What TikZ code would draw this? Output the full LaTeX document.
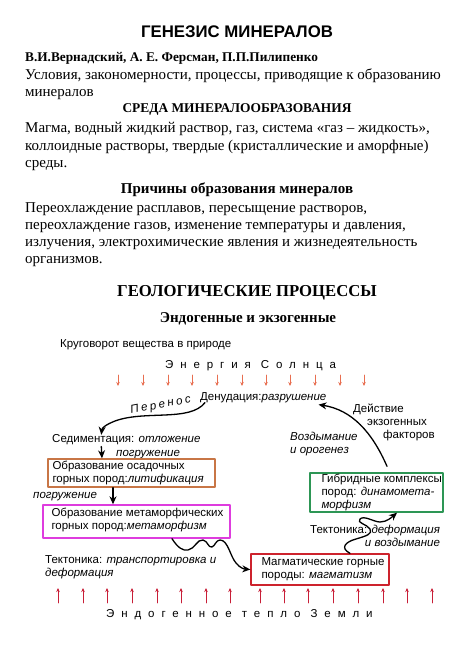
\documentclass[tikz,border=0pt]{standalone}
\usepackage{fontspec}
\setmainfont{Liberation Serif}
\setsansfont{Liberation Sans}
\newfontfamily\spacedsans[LetterSpace=60]{Liberation Sans}
\newfontfamily\widesans[LetterSpace=22]{Liberation Sans}
\usetikzlibrary{arrows.meta,positioning}

\definecolor{sedcol}{RGB}{200,118,70}
\definecolor{metcol}{RGB}{222,60,222}
\definecolor{hybcol}{RGB}{45,150,85}
\definecolor{magcol}{RGB}{205,35,45}
\definecolor{suncol}{RGB}{232,110,80}
\definecolor{heatcol}{RGB}{200,30,55}

\tikzset{
  body/.style={font=\fontsize{15}{17}\selectfont, inner sep=0pt, anchor=base west},
  head/.style={font=\bfseries\fontsize{15}{17}\selectfont, inner sep=0pt, anchor=base},
  txt/.style={font=\sffamily\fontsize{11.5}{13}\selectfont, inner sep=0pt, align=left},
  flow/.style={-{Stealth[length=8pt,width=7pt]}, line width=1.3pt},
  sunarr/.style={suncol, line width=0.8pt, -{Stealth[length=4pt,width=3.5pt]}},
  heatarr/.style={heatcol, line width=0.8pt, -{Stealth[length=4pt,width=3.5pt]}},
}

\begin{document}
\begin{tikzpicture}[x=1pt, y=-1pt, line join=round, line cap=round]
    \useasboundingbox (0,0) rectangle (474,648);
    \fill[white] (0,0) rectangle (474,648);

    % text part
    \node[font=\sffamily\bfseries\fontsize{16.8}{19}\selectfont, inner sep=0pt, anchor=base] (title) at (237,37) {ГЕНЕЗИС МИНЕРАЛОВ};
    \node[body, font=\bfseries\fontsize{13.3}{15}\selectfont] (authors) at (25,61) {В.И.Вернадский, А. Е. Ферсман, П.П.Пилипенко};
    \node[body] (def1) at (25,79) {Условия, закономерности, процессы, приводящие к образованию};
    \node[body] (def2) at (25,96) {минералов};
    \node[head, font=\bfseries\fontsize{13.4}{16}\selectfont] (sreda) at (237,112) {СРЕДА МИНЕРАЛООБРАЗОВАНИЯ};
    \node[body] (sr1) at (25,132) {Магма, водный жидкий раствор, газ, система «газ – жидкость»,};
    \node[body] (sr2) at (25,150) {коллоидные растворы, твердые (кристаллические и аморфные)};
    \node[body] (sr3) at (25,167) {среды.};
    \node[head] (prich) at (237,193) {Причины образования минералов};
    \node[body] (pr1) at (25,212) {Переохлаждение расплавов, пересыщение растворов,};
    \node[body] (pr2) at (25,229) {переохлаждение газов, изменение температуры и давления,};
    \node[body] (pr3) at (25,246) {излучения, электрохимические явления и жизнедеятельность};
    \node[body] (pr4) at (25,263) {организмов.};
    \node[head, font=\bfseries\fontsize{16.7}{19}\selectfont] (geol) at (247,296) {ГЕОЛОГИЧЕСКИЕ ПРОЦЕССЫ};
    \node[head] (endo) at (248,322) {Эндогенные и экзогенные};

    % diagram
    \node[txt, anchor=base west] (krug) at (60,347) {Круговорот вещества в природе};
    \node[txt, anchor=base west, font=\spacedsans\fontsize{11.5}{13}\selectfont] (sun) at (165,368) {Энергия Солнца};
    \foreach \x in {118,143,168,192,217,242,266,290,315,340,364} {
        \draw[sunarr] (\x,375) -- (\x,386);
    }

    \node[txt, anchor=base west] (den) at (200,400) {Денудация:\textit{разрушение}};
    \node[txt, anchor=base west, font=\widesans\itshape\fontsize{11.5}{13}\selectfont, rotate=11] (per) at (131,414) {Перенос};
    \node[txt, anchor=base west] (sed) at (52,442) {Седиментация: \textit{отложение}};
    \node[txt, anchor=base west] (pogr1) at (116,456) {\textit{погружение}};
    \node[txt, anchor=base west] (pogr2) at (33,498) {\textit{погружение}};

    % boxes
    \node[draw=sedcol, line width=1.4pt, minimum width=167pt, minimum height=28pt] (osad) at (131.5,473) {};
    \node[txt, below right=3pt and 5pt of osad.north west] (osadT) {Образование осадочных\\горных пород:\textit{литификация}};
    \node[draw=metcol, line width=1.4pt, minimum width=187pt, minimum height=33pt] (meta) at (136.5,521.5) {};
    \node[txt, below right=4pt and 9pt of meta.north west] (metaT) {Образование метаморфических\\горных пород:\textit{метаморфизм}};
    \node[draw=hybcol, line width=1.4pt, minimum width=133pt, minimum height=39pt] (hyb) at (376.5,492.5) {};
    \node[txt, below right=2pt and 12pt of hyb.north west] (hybT) {Гибридные комплексы\\пород: \textit{динамомета-}\\\textit{морфизм}};
    \node[draw=magcol, line width=1.4pt, minimum width=138pt, minimum height=31pt] (magm) at (320,569.5) {};
    \node[txt, below right=4pt and 11pt of magm.north west] (magmT) {Магматические горные\\породы: \textit{магматизм}};

    \node[txt, anchor=base west] (vozd) at (290,453) {\textit{Воздымание}\\\textit{и орогенез}};
    \node[txt, anchor=base west] (deyst) at (353,438) {Действие\\\hspace*{14pt}экзогенных\\\hspace*{30pt}факторов};
    \node[txt, anchor=base west, align=right] (tekt1) at (310,546) {Тектоника: \textit{деформация}\\\textit{и воздымание}};
    \node[txt, anchor=base west] (tekt2) at (45,576) {Тектоника: \textit{транспортировка и}\\\textit{деформация}};

    % connectors
    \draw[flow] ([xshift=5pt]den.south west) .. controls (190,422) and (145,410) .. (115,421)
        .. controls (105,425) and (102,428) .. ([xshift=-25pt,yshift=-1pt]sed.north);
    \draw[flow] ([xshift=-25pt,yshift=-2pt]sed.south) -- ([xshift=-29.5pt]osad.north);
    \draw[flow] ([xshift=-18.5pt]osad.south) -- ([xshift=-23.5pt]meta.north);
    \draw[flow] ([xshift=10.5pt,yshift=6pt]hyb.north) .. controls (372,432) and (352,410) .. ([xshift=-8pt,yshift=-2pt]den.south east);
    \draw[flow] ([xshift=35.5pt]meta.south) .. controls (178,548) and (183,551) .. (188,550)
        .. controls (195,549) and (197,539) .. (203,540)
        .. controls (208,541) and (208,548) .. (212,547)
        .. controls (215,546) and (216,540) .. (220,540)
        .. controls (228,540) and (230,556) .. (236,563)
        .. controls (240,568) and (244,569) .. (magm.west);
    \draw[flow] ([xshift=30pt]magm.north) .. controls (340,548) and (345,542) .. (356,539)
        .. controls (366,536) and (373,534) .. (370,529)
        .. controls (367,524) and (356,523) .. (360,519)
        .. controls (364,515) and (374,522) .. (380,522)
        .. controls (387,522) and (392,517) .. ([xshift=20.5pt]hyb.south);

    % bottom
    \foreach \x in {58,83,107,132,157,181,206,230,260,284,308,333,358,383,407,432} {
        \draw[heatarr] (\x,603) -- (\x,588);
    }
    \node[txt, anchor=base west, font=\spacedsans\fontsize{11.5}{13}\selectfont] (earth) at (106,617) {Эндогенное тепло Земли};
\end{tikzpicture}
\end{document}
